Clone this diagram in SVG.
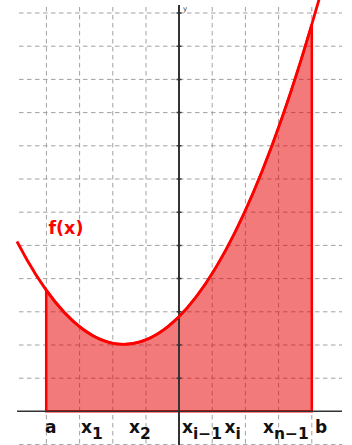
<svg xmlns="http://www.w3.org/2000/svg" width="352" height="445" viewBox="0 0 352 445">
<style>
.grid{stroke:#a0a0a0;stroke-width:1;stroke-dasharray:4.5,3.5;fill:none}
.axis{stroke:#333;fill:none}
.lbl{font-family:"DejaVu Sans",Verdana,sans-serif;font-weight:bold;font-size:17px;fill:#111}
.sub{font-size:15.5px}
</style>
<rect width="352" height="445" fill="#fff"/>
<g id="grid">
<path class="grid" d="M19 13H342M19 46.2H342M19 79.4H342M19 112.6H342M19 145.8H342M19 179H342M19 212.2H342M19 245.4H342M19 278.6H342M19 311.8H342M19 345H342M19 378.2H342M19 444.6H342"/>
<path class="grid" d="M46.4 7V445M79.6 7V445M112.8 7V445M146 7V445M212.2 7V445M245.4 7V445M278.6 7V445M311.8 7V445"/>
</g>
<g id="area">
<path d="M46.2 411.3V290.1Q179 476 311.8 24.5V411.3Z" fill="#e60000" fill-opacity="0.52" stroke="#ff0000" stroke-width="2.5" stroke-linejoin="miter"/>
</g>
<g id="axes">
<path class="axis" stroke-width="1.6" d="M17 411.3H342"/>
<path class="axis" stroke-width="2" d="M179 5V445"/>
<path class="axis" stroke-width="1.5" d="M176.5 13H181.5M176.5 46.2H181.5M176.5 79.4H181.5M176.5 112.6H181.5M176.5 145.8H181.5M176.5 179H181.5M176.5 212.2H181.5M176.5 245.4H181.5M176.5 278.6H181.5M176.5 311.8H181.5M176.5 345H181.5M176.5 378.2H181.5"/>
<text x="183" y="11" font-family="DejaVu Sans,sans-serif" font-size="7" fill="#333">y</text>
</g>
<g id="curve">
<path d="M17 241.5Q168.5 533.7 320.1 -4.3" fill="none" stroke="#ff0000" stroke-width="2.8"/>
</g>
<g id="labels">
<text x="48.5" y="234" font-family="DejaVu Sans,Verdana,sans-serif" font-weight="bold" font-size="17.5" fill="#ff0000">f(x)</text>
<text class="lbl" x="45" y="433">a</text>
<text class="lbl" x="81" y="433">x<tspan class="sub" dy="6">1</tspan></text>
<text class="lbl" x="129" y="433">x<tspan class="sub" dy="6">2</tspan></text>
<text class="lbl" x="182" y="433">x<tspan class="sub" dy="6">i−1</tspan></text>
<text class="lbl" x="224.5" y="433">x<tspan class="sub" dy="6">i</tspan></text>
<text class="lbl" x="263" y="433">x<tspan class="sub" dy="6">n−1</tspan></text>
<text class="lbl" x="315" y="433">b</text>
</g>
</svg>
